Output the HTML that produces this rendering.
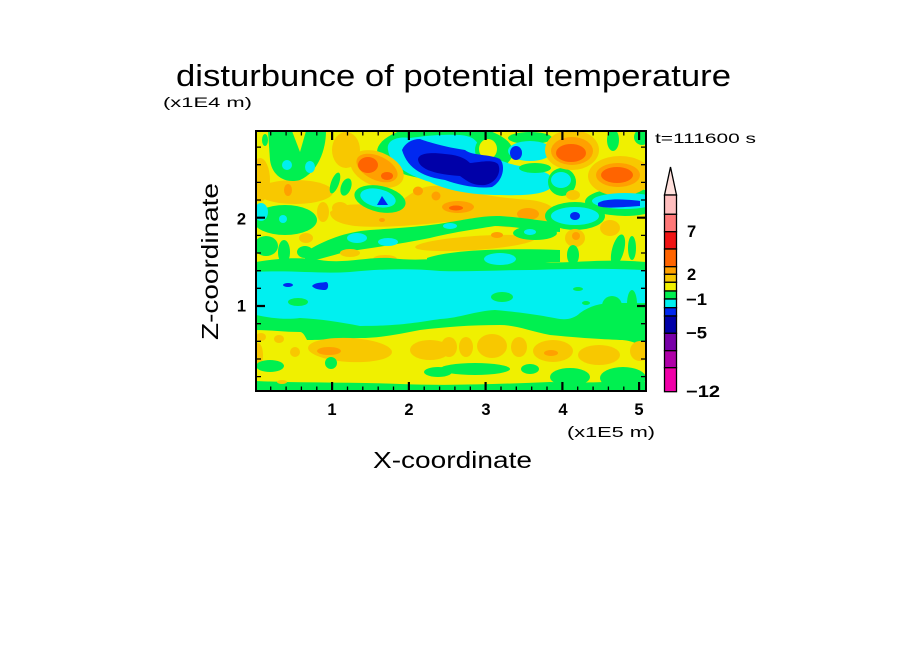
<!DOCTYPE html>
<html><head><meta charset="utf-8"><style>
html,body{margin:0;padding:0;background:#fff;}
svg{display:block}
.y{fill:#F0F000}.g{fill:#00F050}.c{fill:#00F0F0}.b{fill:#0028F0}.d{fill:#0000A8}.o1{fill:#F8C800}.o2{fill:#FFA000}.o3{fill:#FF6400}
text{font-family:"Liberation Sans",sans-serif;fill:#000}
.tk{font-weight:bold;font-size:16.5px}
</style></head><body>
<svg width="904" height="654" viewBox="0 0 904 654" xmlns="http://www.w3.org/2000/svg">
<defs><clipPath id="cp"><rect x="256" y="131" width="390" height="260"/></clipPath></defs>
<rect width="904" height="654" fill="#fff"/>
<g clip-path="url(#cp)">
<rect class="y" x="256" y="131" width="390" height="260"/>

<!-- top-left -->
<ellipse class="o1" cx="260" cy="180" rx="10" ry="22"/>
<ellipse class="o1" cx="295" cy="192" rx="38" ry="12"/>
<ellipse class="o2" cx="288" cy="190" rx="4" ry="6"/>
<ellipse class="o1" cx="346" cy="150" rx="14" ry="18"/>
<path class="g" d="M268,131 L326,131 C326,150 318,172 300,180 C285,184 272,176 270,160 Z"/>
<path class="y" d="M292,131 L306,131 L300,152 Z"/>
<ellipse class="c" cx="287" cy="165" rx="5" ry="5"/>
<ellipse class="c" cx="310" cy="167" rx="5" ry="6"/>
<ellipse class="g" cx="265" cy="140" rx="3" ry="6"/>
<ellipse class="g" cx="335" cy="183" rx="4" ry="11" transform="rotate(20 335 183)"/>
<ellipse class="g" cx="346" cy="187" rx="5" ry="9" transform="rotate(20 346 187)"/>
<ellipse class="g" cx="285" cy="220" rx="32" ry="15"/>
<ellipse class="c" cx="261" cy="212" rx="7" ry="9"/>
<ellipse class="c" cx="283" cy="219" rx="4" ry="4"/>
<ellipse class="o1" cx="323" cy="212" rx="6" ry="10"/>
<ellipse class="o1" cx="340" cy="208" rx="8" ry="6"/>
<ellipse class="o1" cx="306" cy="238" rx="7" ry="5"/>
<ellipse class="g" cx="266" cy="246" rx="12" ry="10"/>
<ellipse class="g" cx="284" cy="252" rx="6" ry="12"/>
<ellipse class="g" cx="305" cy="252" rx="8" ry="6"/>

<!-- orange band -->
<path class="o1" d="M330,212 C345,200 365,206 395,205 C410,195 420,184 440,186 C470,193 500,198 530,200 C548,202 556,208 556,215 C556,226 540,230 520,228 C490,226 470,224 445,222 C410,226 380,228 355,226 C340,224 330,220 330,212 Z"/>

<!-- blob complex -->
<ellipse class="g" cx="445" cy="152" rx="68" ry="28"/>
<path class="c" d="M388,150 C386,140 398,136 410,138 C425,136 440,134 460,135 C472,136 478,140 480,150 C485,160 495,158 505,162 C520,168 550,168 553,180 C556,194 530,196 500,195 C470,195 445,190 430,182 C410,176 390,165 388,150 Z"/>
<ellipse class="g" cx="530" cy="138" rx="22" ry="6"/>
<ellipse class="c" cx="530" cy="151" rx="22" ry="10"/>
<ellipse class="b" cx="516" cy="153" rx="6" ry="7"/>
<ellipse class="g" cx="488" cy="150" rx="13" ry="14"/>
<ellipse class="y" cx="488" cy="149" rx="9" ry="10"/>
<ellipse class="g" cx="535" cy="168" rx="16" ry="5"/>
<path class="b" d="M402,150 C405,143 412,139 420,139 C428,142 445,147 465,150 C472,156 490,154 500,159 C506,166 503,181 492,187 C478,189 458,185 445,180 C425,177 408,170 402,150 Z"/>
<path class="d" d="M418,160 C418,153 430,152 445,154 C458,155 465,158 470,163 C480,162 493,159 498,164 C502,172 496,183 485,185 C472,186 466,180 460,176 C445,175 420,172 418,160 Z"/>

<!-- orange blob left -->
<ellipse class="o1" cx="377" cy="169" rx="28" ry="17" transform="rotate(22 377 169)"/>
<ellipse class="o2" cx="377" cy="168" rx="22" ry="12" transform="rotate(25 377 168)"/>
<ellipse class="o3" cx="368" cy="165" rx="10" ry="8"/>
<ellipse class="o3" cx="387" cy="176" rx="6" ry="4"/>

<!-- cyan/blue spot -->
<ellipse class="g" cx="380" cy="199" rx="26" ry="13" transform="rotate(12 380 199)"/>
<ellipse class="c" cx="378" cy="198" rx="18" ry="9" transform="rotate(12 378 198)"/>
<path class="b" d="M377,205 L382,196 L388,205 Z"/>

<!-- orange spots in band -->
<ellipse class="o2" cx="418" cy="191" rx="5" ry="4.5"/>
<ellipse class="o2" cx="436" cy="196" rx="4.5" ry="4.5"/>
<ellipse class="o2" cx="458" cy="207" rx="16" ry="6"/>
<ellipse class="o3" cx="456" cy="208" rx="7" ry="2.5"/>
<ellipse class="o2" cx="528" cy="214" rx="11" ry="6"/>
<ellipse class="o2" cx="382" cy="220" rx="3" ry="2"/>

<!-- green diagonal band -->
<ellipse class="o1" cx="475" cy="243" rx="60" ry="7" transform="rotate(-4 475 243)"/>
<path class="g" d="M305,252 C325,240 345,232 370,230 C400,228 430,226 450,222 C470,219 480,216 500,216 C530,218 545,222 560,222 L560,232 C540,232 515,226 495,226 C470,230 455,232 430,238 C400,244 370,248 345,252 C330,256 318,260 305,262 Z"/>
<ellipse class="g" cx="535" cy="233" rx="22" ry="7"/>
<ellipse class="o2" cx="497" cy="235" rx="6" ry="3"/>
<ellipse class="c" cx="357" cy="238" rx="10" ry="5"/>
<ellipse class="c" cx="388" cy="242" rx="10" ry="4"/>
<ellipse class="c" cx="450" cy="226" rx="7" ry="3"/>
<ellipse class="c" cx="530" cy="232" rx="6" ry="3"/>
<ellipse class="o1" cx="350" cy="253" rx="10" ry="4"/>
<ellipse class="o1" cx="385" cy="259" rx="12" ry="4"/>

<!-- right mid -->
<ellipse class="g" cx="562" cy="182" rx="14" ry="14"/>
<ellipse class="c" cx="561" cy="180" rx="10" ry="8"/>
<ellipse class="o1" cx="572" cy="150" rx="27" ry="20"/>
<ellipse class="o2" cx="572" cy="151" rx="21" ry="14"/>
<ellipse class="o3" cx="571" cy="153" rx="15" ry="9"/>
<ellipse class="g" cx="613" cy="140" rx="6" ry="11"/>
<ellipse class="g" cx="642" cy="137" rx="8" ry="8"/>
<ellipse class="g" cx="625" cy="202" rx="40" ry="14"/>
<ellipse class="o1" cx="620" cy="176" rx="32" ry="20"/>
<ellipse class="o2" cx="618" cy="175" rx="22" ry="12"/>
<ellipse class="o3" cx="617" cy="175" rx="16" ry="8"/>
<ellipse class="c" cx="625" cy="201" rx="33" ry="8"/>
<path class="b" d="M598,203 C605,198 625,199 640,201 L640,206 C625,207 605,209 598,206 Z"/>
<ellipse class="g" cx="575" cy="216" rx="30" ry="14"/>
<ellipse class="c" cx="575" cy="216" rx="24" ry="9"/>
<ellipse class="b" cx="575" cy="216" rx="5" ry="4"/>
<ellipse class="o1" cx="573" cy="195" rx="7" ry="5"/>
<ellipse class="o1" cx="610" cy="228" rx="10" ry="8"/>
<ellipse class="o1" cx="575" cy="238" rx="10" ry="9"/>
<ellipse class="o2" cx="576" cy="236" rx="4" ry="4"/>
<ellipse class="g" cx="573" cy="255" rx="6" ry="10"/>
<ellipse class="g" cx="618" cy="250" rx="6" ry="16" transform="rotate(15 618 250)"/>
<ellipse class="g" cx="632" cy="248" rx="4" ry="12"/>

<!-- green above cyan band right -->
<path class="g" d="M427,258 C450,250 500,248 560,250 L560,262 L427,262 Z"/>

<!-- mid green band -->
<path class="g" d="M256,262 C280,258 300,257 320,260 C345,264 365,257 390,258 C420,262 440,257 470,259 C500,262 520,257 545,262 C570,264 600,258 646,262 L646,347 C635,343 630,340 620,340 C600,339 580,338 550,335 C530,331 515,325 500,325 C470,325 445,327 420,330 C400,334 380,338 360,338 C340,339 320,340 307,340 C305,336 303,332 300,332 C285,332 270,330 256,330 Z"/>
<ellipse class="c" cx="500" cy="259" rx="16" ry="6"/>
<!-- cyan band -->
<path class="c" d="M256,272 C290,270 320,274 350,272 C380,269 410,268 440,271 C470,272 500,270 530,270 C560,269 600,268 646,270 L646,303 L613,303 C600,303 590,306 580,313 C575,318 568,320 560,319 C545,316 520,312 495,310 C475,311 460,318 440,319 C420,322 400,326 360,326 C340,322 320,319 300,318 C285,320 270,318 256,315 Z"/>
<ellipse class="b" cx="288" cy="285" rx="5" ry="2"/>
<path class="b" d="M312,286 C315,282 322,283 326,282 C329,282 329,290 325,290 C320,290 314,289 312,286 Z"/>
<ellipse class="g" cx="298" cy="302" rx="10" ry="4"/>
<ellipse class="g" cx="502" cy="297" rx="11" ry="5"/>
<ellipse class="g" cx="578" cy="289" rx="5" ry="2"/>
<ellipse class="g" cx="586" cy="303" rx="4" ry="2"/>
<ellipse class="g" cx="612" cy="306" rx="10" ry="10"/>
<ellipse class="g" cx="632" cy="304" rx="5" ry="14"/>

<!-- bottom -->
<ellipse class="o1" cx="261" cy="337" rx="5" ry="4"/>
<ellipse class="o1" cx="279" cy="339" rx="5" ry="4"/>
<ellipse class="o1" cx="258" cy="355" rx="5" ry="12"/>
<ellipse class="o1" cx="350" cy="350" rx="42" ry="12" transform="rotate(3 350 350)"/>
<ellipse class="o2" cx="329" cy="351" rx="12" ry="4"/>
<ellipse class="o1" cx="295" cy="352" rx="5" ry="5"/>
<ellipse class="o1" cx="430" cy="350" rx="20" ry="10"/>
<ellipse class="o1" cx="449" cy="347" rx="8" ry="10"/>
<ellipse class="o1" cx="466" cy="347" rx="7" ry="10"/>
<ellipse class="o1" cx="492" cy="346" rx="15" ry="12"/>
<ellipse class="o1" cx="519" cy="347" rx="8" ry="10"/>
<ellipse class="o1" cx="553" cy="351" rx="20" ry="11"/>
<ellipse class="o2" cx="551" cy="353" rx="7" ry="3"/>
<ellipse class="o1" cx="599" cy="355" rx="21" ry="10"/>
<ellipse class="o1" cx="640" cy="351" rx="10" ry="10"/>
<ellipse class="g" cx="270" cy="366" rx="14" ry="6"/>
<ellipse class="g" cx="331" cy="363" rx="6" ry="6"/>
<ellipse class="g" cx="438" cy="372" rx="14" ry="5"/>
<ellipse class="g" cx="475" cy="369" rx="35" ry="6"/>
<ellipse class="g" cx="530" cy="369" rx="9" ry="5"/>
<ellipse class="g" cx="570" cy="377" rx="20" ry="9"/>
<ellipse class="g" cx="623" cy="378" rx="23" ry="11"/>
<path class="g" d="M256,381 C300,383 350,382 400,384 C450,386 500,384 550,382 C600,384 620,380 646,382 L646,391 L256,391 Z"/>
<ellipse class="o1" cx="282" cy="382" rx="5" ry="2"/>
</g>

<!-- frame -->
<rect x="256" y="131" width="390" height="260" fill="none" stroke="#000" stroke-width="2"/>
<!-- minor ticks -->
<path fill="none" stroke="#000" stroke-width="1.3" d="
M270.7,391V386.5M286.1,391V386.5M301.4,391V386.5M316.8,391V386.5M347.5,391V386.5M362.8,391V386.5M378.2,391V386.5M393.5,391V386.5M424.2,391V386.5M439.6,391V386.5M454.9,391V386.5M470.3,391V386.5M501,391V386.5M516.3,391V386.5M531.7,391V386.5M547,391V386.5M577.7,391V386.5M593.1,391V386.5M608.4,391V386.5M623.8,391V386.5
M270.7,131V135.5M286.1,131V135.5M301.4,131V135.5M316.8,131V135.5M347.5,131V135.5M362.8,131V135.5M378.2,131V135.5M393.5,131V135.5M424.2,131V135.5M439.6,131V135.5M454.9,131V135.5M470.3,131V135.5M501,131V135.5M516.3,131V135.5M531.7,131V135.5M547,131V135.5M577.7,131V135.5M593.1,131V135.5M608.4,131V135.5M623.8,131V135.5
M256,376.6H261M256,359H261M256,341.3H261M256,323.7H261M256,288.3H261M256,270.7H261M256,253H261M256,235.4H261M256,200H261M256,182.4H261M256,164.7H261M256,147.1H261
M646,376.6H641M646,359H641M646,341.3H641M646,323.7H641M646,288.3H641M646,270.7H641M646,253H641M646,235.4H641M646,200H641M646,182.4H641M646,164.7H641M646,147.1H641"/>
<!-- major ticks -->
<path fill="none" stroke="#000" stroke-width="2.2" d="
M332.1,391V382M408.9,391V382M485.6,391V382M562.4,391V382M639.1,391V382
M332.1,131V140M408.9,131V140M485.6,131V140M562.4,131V140M639.1,131V140
M256,306H265M256,217.7H265M646,306H637M646,217.7H637"/>

<!-- colorbar -->
<g stroke="#000" stroke-width="1.3">
<path d="M670.5,167 L676.5,195 L664.5,195 Z" fill="#FFE0DC"/>
<rect x="664.5" y="195" width="12" height="19.3" fill="#FFBEBE"/>
<rect x="664.5" y="214.3" width="12" height="17.4" fill="#FF7878"/>
<rect x="664.5" y="231.7" width="12" height="17.3" fill="#F01414"/>
<rect x="664.5" y="249" width="12" height="17.7" fill="#FF6400"/>
<rect x="664.5" y="266.7" width="12" height="7.6" fill="#FFA000"/>
<rect x="664.5" y="274.3" width="12" height="8" fill="#F8C800"/>
<rect x="664.5" y="282.3" width="12" height="8.7" fill="#F0F000"/>
<rect x="664.5" y="291" width="12" height="8" fill="#00F050"/>
<rect x="664.5" y="299" width="12" height="8.7" fill="#00F0F0"/>
<rect x="664.5" y="307.7" width="12" height="8.3" fill="#0028F0"/>
<rect x="664.5" y="316" width="12" height="17.3" fill="#0000A8"/>
<rect x="664.5" y="333.3" width="12" height="17.4" fill="#7800A8"/>
<rect x="664.5" y="350.7" width="12" height="17" fill="#B000A8"/>
<rect x="664.5" y="367.7" width="12" height="24" fill="#F000A8"/>
</g>
<text class="tk" x="687" y="237" font-size="15">7</text>
<text class="tk" x="687" y="280" font-size="15">2</text>
<text class="tk" x="686" y="305" textLength="21" lengthAdjust="spacingAndGlyphs">−1</text>
<text class="tk" x="686" y="338.5" textLength="21" lengthAdjust="spacingAndGlyphs">−5</text>
<text class="tk" x="686" y="397" textLength="34" lengthAdjust="spacingAndGlyphs">−12</text>

<!-- texts -->
<text x="176" y="86" font-size="31" textLength="555" lengthAdjust="spacingAndGlyphs">disturbunce of potential temperature</text>
<text x="163" y="107" font-size="14" textLength="89" lengthAdjust="spacingAndGlyphs">(x1E4 m)</text>
<text x="655" y="143" font-size="14" textLength="101" lengthAdjust="spacingAndGlyphs">t=111600 s</text>
<text class="tk" x="332" y="415" text-anchor="middle">1</text>
<text class="tk" x="409" y="415" text-anchor="middle">2</text>
<text class="tk" x="486" y="415" text-anchor="middle">3</text>
<text class="tk" x="563" y="415" text-anchor="middle">4</text>
<text class="tk" x="639" y="415" text-anchor="middle">5</text>
<text class="tk" x="246" y="224.5" text-anchor="end">2</text>
<text class="tk" x="246" y="311.5" text-anchor="end">1</text>
<text x="567" y="437" font-size="15" textLength="88" lengthAdjust="spacingAndGlyphs">(x1E5 m)</text>
<text x="373" y="468" font-size="23" textLength="159" lengthAdjust="spacingAndGlyphs">X-coordinate</text>
<text transform="translate(218,340) rotate(-90)" font-size="23" textLength="157" lengthAdjust="spacingAndGlyphs">Z-coordinate</text>
</svg>
</body></html>
